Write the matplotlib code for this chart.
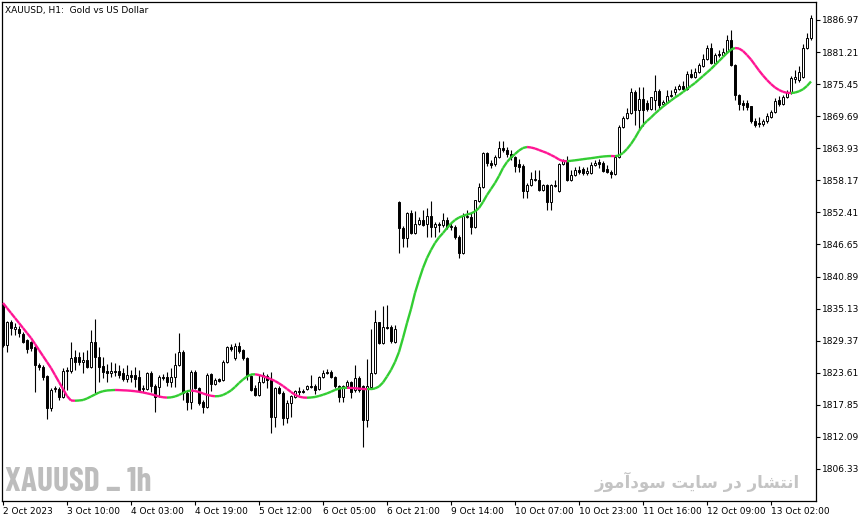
import numpy as np
import matplotlib
matplotlib.use("Agg")
import matplotlib.pyplot as plt
from matplotlib.collections import LineCollection

# XAUUSD H1 candles, 2 Oct - 13 Oct 2023
opens = [
    1835.6, 1828.6, 1832.6, 1831.5, 1831.5, 1830.6, 1829.5, 1829.0, 1828.1, 1825.0,
    1824.6, 1823.0, 1817.3, 1820.7, 1820.7, 1819.3, 1823.9, 1823.9, 1826.4, 1826.4,
    1825.5, 1825.9, 1824.6, 1829.0, 1826.4, 1824.8, 1823.9, 1823.6, 1823.9, 1823.9,
    1823.6, 1822.5, 1823.2, 1823.2, 1822.8, 1820.7, 1820.7, 1823.6, 1821.2, 1821.1,
    1822.8, 1822.8, 1821.9, 1822.8, 1825.0, 1827.3, 1820.0, 1818.4, 1823.7, 1820.9,
    1818.4, 1817.5, 1823.4, 1821.6, 1822.5, 1822.3, 1825.5, 1828.2, 1826.3, 1828.4,
    1827.7, 1826.3, 1823.0, 1820.9, 1819.6, 1821.9, 1823.0, 1822.3, 1815.7, 1820.9,
    1820.0, 1815.5, 1818.2, 1819.3, 1820.3, 1820.3, 1820.7, 1821.2, 1821.2, 1820.7,
    1822.8, 1823.7, 1823.7, 1822.8, 1821.1, 1819.3, 1821.2, 1821.9, 1820.5, 1822.7,
    1821.1, 1815.1, 1821.1, 1823.6, 1832.6, 1829.0, 1831.8, 1831.8, 1829.1, 1854.3,
    1849.6, 1847.8, 1852.3, 1848.7, 1850.3, 1851.0, 1850.3, 1851.8, 1849.8, 1850.3,
    1850.2, 1851.0, 1849.8, 1849.8, 1848.0, 1845.1, 1851.6, 1851.6, 1849.8, 1854.5,
    1857.0, 1863.1, 1861.3, 1861.1, 1862.4, 1864.0, 1863.6, 1862.9, 1862.4, 1861.1,
    1860.7, 1856.3, 1857.3, 1858.2, 1858.2, 1856.4, 1857.2, 1854.3, 1857.2, 1856.3,
    1861.1, 1861.5, 1858.2, 1859.1, 1860.0, 1860.2, 1859.5, 1859.5, 1860.9, 1861.5,
    1861.3, 1860.2, 1859.7, 1859.3, 1862.4, 1867.7, 1869.4, 1870.3, 1873.9, 1870.8,
    1872.8, 1872.1, 1871.0, 1872.6, 1874.2, 1871.9, 1872.2, 1873.3, 1874.0, 1874.6,
    1875.1, 1874.6, 1877.3, 1876.7, 1877.6, 1878.7, 1880.0, 1881.9, 1879.3, 1880.9,
    1880.7, 1881.2, 1883.4, 1878.9, 1873.5, 1872.1, 1872.1, 1871.4, 1868.8, 1868.5,
    1868.3, 1868.8, 1869.6, 1870.4, 1872.6, 1871.9, 1873.1, 1873.9, 1876.4, 1876.2,
    1876.7, 1881.9, 1883.7,
]
highs = [
    1836.0, 1832.9, 1833.1, 1832.6, 1832.0, 1830.9, 1829.7, 1829.3, 1828.6, 1825.4,
    1825.0, 1823.2, 1820.9, 1821.2, 1821.1, 1824.5, 1824.6, 1829.1, 1827.7, 1827.3,
    1827.3, 1827.7, 1831.3, 1833.3, 1828.2, 1826.4, 1825.2, 1825.5, 1825.4, 1825.0,
    1824.5, 1825.0, 1824.1, 1824.6, 1824.1, 1821.4, 1823.7, 1823.9, 1821.6, 1823.2,
    1823.4, 1823.7, 1824.5, 1827.2, 1830.7, 1827.7, 1820.5, 1824.1, 1824.1, 1821.1,
    1818.7, 1823.6, 1823.6, 1822.7, 1822.7, 1825.9, 1828.4, 1828.8, 1829.0, 1829.1,
    1827.9, 1826.4, 1823.2, 1821.4, 1823.2, 1823.7, 1823.4, 1823.7, 1821.1, 1821.2,
    1820.3, 1818.7, 1819.6, 1820.5, 1821.1, 1820.7, 1821.4, 1823.2, 1821.6, 1823.0,
    1824.1, 1824.3, 1824.1, 1823.0, 1821.4, 1821.4, 1822.3, 1822.1, 1825.0, 1823.0,
    1821.4, 1826.1, 1831.5, 1834.9, 1832.7, 1835.6, 1835.7, 1832.2, 1832.2, 1854.5,
    1850.0, 1852.5, 1852.8, 1852.7, 1851.6, 1852.8, 1853.2, 1854.5, 1850.7, 1850.7,
    1852.3, 1851.6, 1850.5, 1850.2, 1848.4, 1852.3, 1852.8, 1852.3, 1854.6, 1857.7,
    1863.3, 1863.3, 1861.8, 1862.7, 1865.2, 1865.2, 1864.2, 1863.6, 1862.6, 1862.0,
    1861.1, 1857.7, 1859.7, 1860.0, 1860.0, 1857.5, 1857.5, 1857.5, 1858.2, 1861.3,
    1862.0, 1862.6, 1860.0, 1860.6, 1860.7, 1860.6, 1860.6, 1861.5, 1861.8, 1862.0,
    1861.6, 1860.9, 1860.0, 1862.7, 1868.1, 1869.7, 1871.2, 1874.8, 1874.4, 1875.0,
    1875.0, 1872.6, 1873.1, 1877.1, 1874.6, 1872.6, 1874.4, 1874.4, 1875.1, 1875.5,
    1876.0, 1877.8, 1878.2, 1878.3, 1879.2, 1880.9, 1882.5, 1882.8, 1881.0, 1881.6,
    1881.9, 1884.3, 1885.2, 1879.1, 1873.7, 1872.6, 1872.6, 1871.5, 1869.4, 1869.6,
    1869.2, 1870.3, 1870.8, 1873.0, 1873.3, 1873.5, 1874.4, 1876.9, 1878.0, 1878.7,
    1882.7, 1884.6, 1887.9,
]
lows = [
    1828.2, 1827.3, 1830.4, 1830.4, 1830.0, 1829.0, 1827.2, 1827.5, 1820.2, 1824.1,
    1822.3, 1815.3, 1816.7, 1820.2, 1818.7, 1819.1, 1820.5, 1823.6, 1824.1, 1825.0,
    1823.6, 1824.5, 1824.5, 1820.0, 1821.9, 1822.7, 1821.9, 1822.8, 1823.0, 1822.7,
    1822.1, 1821.9, 1821.9, 1821.1, 1820.2, 1820.2, 1820.5, 1820.2, 1816.6, 1819.3,
    1822.3, 1821.2, 1821.1, 1821.1, 1824.8, 1818.7, 1816.9, 1817.1, 1820.7, 1817.8,
    1816.4, 1817.3, 1820.3, 1821.4, 1821.9, 1822.1, 1825.4, 1827.5, 1825.9, 1827.2,
    1825.9, 1822.3, 1820.3, 1819.5, 1819.5, 1821.8, 1820.9, 1812.8, 1813.9, 1819.8,
    1814.2, 1814.6, 1815.7, 1819.1, 1819.6, 1820.0, 1820.5, 1820.9, 1819.8, 1820.5,
    1822.7, 1823.4, 1822.7, 1820.9, 1818.4, 1818.4, 1821.1, 1819.1, 1820.2, 1820.2,
    1810.3, 1813.9, 1820.9, 1823.4, 1828.8, 1828.8, 1831.5, 1829.0, 1829.0, 1845.1,
    1846.2, 1846.2, 1848.5, 1848.5, 1850.2, 1850.0, 1848.0, 1848.0, 1848.0, 1848.9,
    1849.8, 1849.4, 1849.3, 1847.6, 1844.2, 1844.9, 1851.4, 1848.5, 1849.6, 1854.3,
    1856.8, 1860.7, 1860.4, 1860.7, 1862.2, 1863.3, 1862.4, 1861.8, 1859.7, 1859.7,
    1855.0, 1855.0, 1857.2, 1858.1, 1856.3, 1856.3, 1852.8, 1852.8, 1857.0, 1856.1,
    1860.9, 1858.1, 1858.1, 1858.9, 1859.3, 1859.1, 1859.1, 1859.3, 1860.7, 1860.4,
    1859.7, 1859.5, 1858.6, 1859.1, 1862.2, 1867.6, 1869.2, 1870.1, 1868.1, 1867.2,
    1867.9, 1870.6, 1870.8, 1870.8, 1871.0, 1871.5, 1872.1, 1873.1, 1873.5, 1874.4,
    1874.4, 1874.4, 1876.6, 1876.6, 1877.5, 1878.5, 1879.8, 1879.1, 1879.1, 1880.3,
    1880.5, 1881.0, 1878.7, 1872.6, 1870.8, 1870.8, 1870.8, 1868.5, 1867.8, 1867.8,
    1867.9, 1868.5, 1869.4, 1870.3, 1871.5, 1871.7, 1873.0, 1873.7, 1875.7, 1875.8,
    1876.6, 1881.8, 1883.4,
]
closes = [
    1828.6, 1832.6, 1831.7, 1831.8, 1830.7, 1829.1, 1827.9, 1828.1, 1825.0, 1824.6,
    1822.8, 1817.3, 1820.5, 1820.9, 1819.3, 1823.9, 1824.1, 1826.3, 1825.5, 1825.5,
    1825.9, 1824.6, 1829.0, 1826.4, 1824.6, 1823.7, 1823.6, 1823.9, 1823.7, 1823.2,
    1822.5, 1823.2, 1822.8, 1822.5, 1820.5, 1820.9, 1823.6, 1821.2, 1819.3, 1822.8,
    1822.7, 1821.9, 1822.8, 1825.0, 1827.3, 1820.0, 1818.4, 1823.7, 1820.9, 1818.2,
    1817.5, 1823.2, 1821.6, 1822.3, 1822.1, 1825.5, 1828.1, 1827.9, 1828.4, 1827.5,
    1826.3, 1823.2, 1820.5, 1819.6, 1821.9, 1823.2, 1822.3, 1815.7, 1820.9, 1820.0,
    1815.5, 1818.2, 1819.3, 1820.2, 1820.2, 1820.2, 1821.2, 1821.1, 1820.5, 1822.8,
    1823.6, 1823.6, 1822.8, 1821.2, 1819.3, 1821.2, 1821.9, 1820.2, 1822.7, 1820.5,
    1815.1, 1821.1, 1823.6, 1832.6, 1829.0, 1831.8, 1831.7, 1829.3, 1831.5, 1849.6,
    1847.8, 1852.3, 1848.7, 1850.3, 1851.0, 1850.2, 1851.8, 1849.8, 1850.3, 1850.2,
    1851.0, 1849.8, 1850.0, 1848.0, 1845.1, 1851.8, 1851.8, 1849.8, 1854.5, 1857.0,
    1863.1, 1861.3, 1860.9, 1862.4, 1864.0, 1863.6, 1862.9, 1862.4, 1860.7, 1860.6,
    1856.3, 1857.3, 1858.4, 1858.4, 1856.4, 1857.2, 1854.3, 1857.3, 1857.3, 1861.1,
    1861.6, 1858.2, 1859.1, 1860.0, 1859.7, 1859.5, 1859.8, 1860.9, 1861.3, 1861.1,
    1859.8, 1859.7, 1859.3, 1862.4, 1867.7, 1869.4, 1870.3, 1873.9, 1870.8, 1872.8,
    1870.8, 1871.0, 1873.0, 1874.2, 1871.7, 1872.2, 1873.3, 1873.5, 1874.6, 1875.1,
    1874.6, 1877.3, 1876.7, 1877.6, 1878.9, 1880.0, 1881.9, 1879.3, 1880.7, 1880.7,
    1881.2, 1883.4, 1878.9, 1873.5, 1871.9, 1871.7, 1871.4, 1868.8, 1868.1, 1868.3,
    1868.8, 1869.6, 1870.4, 1872.4, 1871.9, 1873.1, 1873.9, 1876.5, 1876.7, 1877.6,
    1881.9, 1883.7, 1887.3,
]
# moving average line as drawn on the chart
ma_values = [
    1836.14, 1835.24, 1834.34, 1833.45, 1832.55, 1831.65, 1830.75, 1829.86, 1828.78, 1827.70,
    1826.62, 1825.54, 1824.47, 1823.21, 1821.95, 1820.70, 1819.44, 1818.63, 1818.59, 1818.63,
    1818.72, 1818.99, 1819.35, 1819.71, 1820.07, 1820.30, 1820.43, 1820.48, 1820.52, 1820.50,
    1820.46, 1820.43, 1820.37, 1820.30, 1820.20, 1820.07, 1819.92, 1819.76, 1819.57, 1819.35,
    1819.21, 1819.15, 1819.19, 1819.35, 1819.62, 1819.98, 1820.30, 1820.41, 1820.34, 1820.16,
    1819.89, 1819.66, 1819.48, 1819.39, 1819.42, 1819.62, 1819.98, 1820.43, 1821.05, 1821.77,
    1822.40, 1822.94, 1823.30, 1823.34, 1823.21, 1822.99, 1822.74, 1822.46, 1822.13, 1821.72,
    1821.24, 1820.70, 1820.16, 1819.66, 1819.33, 1819.17, 1819.13, 1819.17, 1819.26, 1819.44,
    1819.66, 1819.91, 1820.20, 1820.52, 1820.77, 1820.88, 1820.91, 1820.89, 1820.84, 1820.77,
    1820.70, 1820.66, 1820.66, 1820.80, 1821.14, 1821.86, 1822.94, 1824.11, 1825.54, 1827.34,
    1829.86, 1832.55, 1835.06, 1837.94, 1840.27, 1842.43, 1844.22, 1845.66, 1846.92, 1847.91,
    1848.71, 1849.61, 1850.42, 1851.05, 1851.50, 1851.77, 1852.04, 1852.22, 1852.58, 1853.20,
    1854.28, 1855.54, 1856.62, 1857.69, 1858.95, 1860.39, 1861.46, 1862.27, 1862.90, 1863.53,
    1863.98, 1864.16, 1864.07, 1863.89, 1863.62, 1863.35, 1863.08, 1862.72, 1862.36, 1861.91,
    1861.64, 1861.61, 1861.68, 1861.77, 1861.86, 1861.97, 1862.06, 1862.15, 1862.25, 1862.36,
    1862.45, 1862.51, 1862.54, 1862.51, 1862.63, 1863.08, 1863.80, 1864.70, 1865.78, 1867.03,
    1868.11, 1868.83, 1869.46, 1870.17, 1870.80, 1871.43, 1871.97, 1872.51, 1873.05, 1873.50,
    1874.04, 1874.58, 1875.12, 1875.65, 1876.28, 1876.91, 1877.54, 1878.17, 1878.89, 1879.60,
    1880.32, 1881.04, 1881.67, 1881.94, 1881.85, 1881.40, 1880.68, 1879.87, 1878.89, 1877.90,
    1877.00, 1876.19, 1875.47, 1874.85, 1874.40, 1874.07, 1873.89, 1873.86, 1873.93, 1874.16,
    1874.52, 1875.12, 1875.92,
]

tick_bars = [0, 16, 32, 48, 64, 80, 96, 112, 128, 144, 160, 176, 192]
tick_labels = ['2 Oct 2023', '3 Oct 10:00', '4 Oct 03:00', '4 Oct 19:00', '5 Oct 12:00',
               '6 Oct 05:00', '6 Oct 21:00', '9 Oct 14:00', '10 Oct 07:00', '10 Oct 23:00',
               '11 Oct 16:00', '12 Oct 09:00', '13 Oct 02:00']
price_ticks = [1806.33, 1812.09, 1817.85, 1823.61, 1829.37, 1835.13, 1840.89, 1846.65,
               1852.41, 1858.17, 1863.93, 1869.69, 1875.45, 1881.21, 1886.97]

o = np.array(opens)
h = np.array(highs)
l = np.array(lows)
c = np.array(closes)
ma = np.array(ma_values)
x = np.arange(len(o))

fig = plt.figure(figsize=(8.66, 5.22), dpi=100, facecolor='white')
ax = fig.add_axes([2 / 866, 21 / 522, 814 / 866, 499 / 522])

# candles: wicks first, bodies on top (bull = hollow, bear = filled)
bull = c >= o
ax.vlines(x, l, h, color='black', linewidth=0.8, zorder=1)
ax.bar(x, np.abs(c - o) + 0.05, bottom=np.minimum(o, c), width=0.62,
       color=np.where(bull, 'white', 'black'), edgecolor='black', linewidth=0.7, zorder=2)

# moving average, green when rising, pink when falling
pts = np.column_stack([x, ma])
segs = np.stack([pts[:-1], pts[1:]], axis=1)
cols = ['#32cd32' if ma[i + 1] >= ma[i] else '#ff1493' for i in range(len(ma) - 1)]
ax.add_collection(LineCollection(segs, colors=cols, linewidths=1.7, zorder=3,
                                 capstyle='butt'))

ax.set_xlim(-0.25, 203.25)
ax.set_ylim(1800.58, 1890.20)

ax.yaxis.tick_right()
ax.set_yticks(price_ticks)
ax.set_yticklabels([f'{p:.2f}' for p in price_ticks])
ax.set_xticks(tick_bars)
ax.set_xticklabels(tick_labels)
for lbl in ax.get_xticklabels():
    lbl.set_horizontalalignment('left')
ax.tick_params(axis='both', direction='out', length=3, width=0.8, labelsize=6.5,
               colors='black', pad=1.5)
for s in ax.spines.values():
    s.set_linewidth(0.9)
    s.set_color('black')

fig.text(5 / 866, 1 - 10 / 522, 'XAUUSD, H1:  Gold vs US Dollar', fontsize=6.5,
         va='center', ha='left')

# watermarks
fig.text(5 / 866, 1 - 482 / 522, 'XAUUSD _ 1h', fontsize=24, fontweight='bold',
         fontstretch='condensed', color='#bdbdbd', va='center', ha='left',
         family=['Barlow Condensed', 'DejaVu Sans'])
# "انتشار در سایت سودآموز" written with joined letter forms, right-to-left
persian = ('\uFE8D\uFEE7\uFE98\uFEB8\uFE8E\uFEAD' + ' ' + '\uFEA9\uFEAD' + ' '
           + '\uFEB3\uFE8E\uFEF3\uFE96' + ' '
           + '\uFEB3\uFEEE\uFEA9\uFE81\uFEE3\uFEEE\uFEAF')[::-1]
fig.text(800 / 866, 1 - 482 / 522, persian, fontsize=12, fontweight='bold',
         color='#c4c4c4', va='center', ha='right', family='DejaVu Sans')

fig.savefig('out.png', dpi=100, facecolor='white')
